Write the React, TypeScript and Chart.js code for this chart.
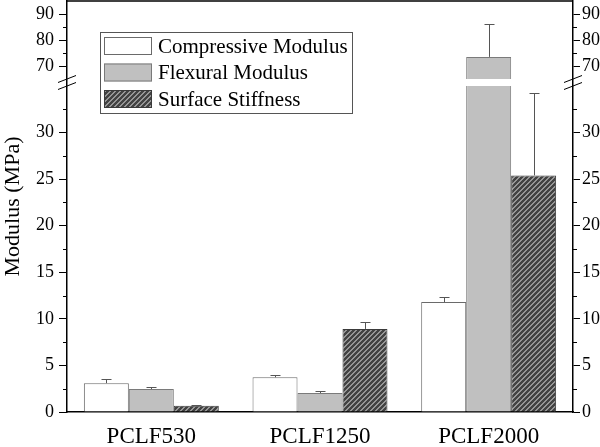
import React, { useEffect, useRef } from 'react';
import { Chart, registerables, LinearScale } from 'chart.js';

Chart.register(...registerables);

const categories = ['PCLF530', 'PCLF1250', 'PCLF2000'];
const seriesLabels = ['Compressive Modulus', 'Flexural Modulus', 'Surface Stiffness'];
const compressive = [3.1, 3.73, 11.8];
const compressiveErr = [0.45, 0.21, 0.55];
const flexural = [2.47, 2.04, 73.5];
const flexuralErr = [0.22, 0.18, 12.7];
const surface = [0.68, 8.92, 25.4];
const surfaceErr = [0.07, 0.76, 8.9];
const majorTicks = [0, 5, 10, 15, 20, 25, 30, 70, 80, 90];
const minorTicks = [2.5, 7.5, 12.5, 17.5, 22.5, 27.5, 32.5, 75, 85];
const LOW_MAX = 35;
const HIGH_MIN = 65;
const HIGH_MAX = 95;
const LOW_FRAC = 326 / 411;
const GAP_FRAC = 7 / 411;

const SERIF = '"Liberation Serif", "Times New Roman", serif';

class BrokenScale extends LinearScale {
  static id = 'broken';
  static defaults = LinearScale.defaults;
  getPixelForValue(value: any) {
    if (value === null || value === undefined || isNaN(value)) return NaN;
    const s: any = this;
    const H = s.bottom - s.top;
    const lowH = H * LOW_FRAC;
    const gapH = H * GAP_FRAC;
    const highH = H - lowH - gapH;
    if (value <= LOW_MAX) return s.bottom - (value / LOW_MAX) * lowH;
    if (value >= HIGH_MIN) return s.top + highH - ((value - HIGH_MIN) / (HIGH_MAX - HIGH_MIN)) * highH;
    const t = (value - LOW_MAX) / (HIGH_MIN - LOW_MAX);
    return s.bottom - lowH - t * gapH;
  }
  getValueForPixel(pixel: number) {
    const s: any = this;
    const H = s.bottom - s.top;
    const lowH = H * LOW_FRAC;
    const gapH = H * GAP_FRAC;
    const highH = H - lowH - gapH;
    if (pixel >= s.bottom - lowH) return ((s.bottom - pixel) / lowH) * LOW_MAX;
    if (pixel <= s.top + highH) return HIGH_MIN + ((s.top + highH - pixel) / highH) * (HIGH_MAX - HIGH_MIN);
    return LOW_MAX + ((s.bottom - lowH - pixel) / gapH) * (HIGH_MIN - LOW_MAX);
  }
}
Chart.register(BrokenScale as any);

function makeHatch(ctx: CanvasRenderingContext2D): CanvasPattern | string {
  const s = 5;
  const c = document.createElement('canvas');
  c.width = s;
  c.height = s;
  const g = c.getContext('2d');
  if (!g) return '#555';
  const img = g.createImageData(s, s);
  for (let y = 0; y < s; y++) {
    for (let x = 0; x < s; x++) {
      const k = (x + y) % s;
      const v = k < 2 ? 150 : 66;
      const i = (y * s + x) * 4;
      img.data[i] = v;
      img.data[i + 1] = v;
      img.data[i + 2] = v;
      img.data[i + 3] = 255;
    }
  }
  g.putImageData(img, 0, 0);
  return ctx.createPattern(c, 'repeat') || '#555';
}

export default function App() {
  const ref = useRef<HTMLCanvasElement>(null);
  useEffect(() => {
    const canvas = ref.current;
    if (!canvas) return;
    const ctx0 = canvas.getContext('2d') as CanvasRenderingContext2D;
    const hatch = makeHatch(ctx0);
    const values = [compressive, flexural, surface];
    const errors = [compressiveErr, flexuralErr, surfaceErr];
    const fills: any[] = ['#ffffff', '#c0c0c0', hatch];
    const borders = ['#6a6a6a', '#7a7a7a', '#3a3a3a'];

    const overlay = {
      id: 'overlay',
      afterDatasetsDraw(chart: any) {
        const ctx = chart.ctx;
        const area = chart.chartArea;
        const ys = chart.scales.y;
        const gTop = ys.getPixelForValue(HIGH_MIN);
        const gBot = ys.getPixelForValue(LOW_MAX);
        ctx.save();
        ctx.fillStyle = '#ffffff';
        ctx.fillRect(area.left + 1, gTop, area.right - area.left - 2, gBot - gTop);
        ctx.strokeStyle = '#555';
        ctx.lineWidth = 1;
        values.forEach((vals, d) => {
          const meta = chart.getDatasetMeta(d);
          vals.forEach((v, i) => {
            const bar = meta.data[i];
            if (!bar) return;
            const x = Math.round(bar.x) + 0.5;
            const y0 = ys.getPixelForValue(v);
            const y1 = Math.round(ys.getPixelForValue(v + errors[d][i])) + 0.5;
            ctx.beginPath();
            ctx.moveTo(x, y0);
            ctx.lineTo(x, y1);
            ctx.moveTo(x - 5, y1);
            ctx.lineTo(x + 5, y1);
            ctx.stroke();
          });
        });
        ctx.restore();
      },
      afterDraw(chart: any) {
        const ctx = chart.ctx;
        const area = chart.chartArea;
        ctx.save();
        ctx.strokeStyle = '#000';
        ctx.lineWidth = 1.5;
        ctx.beginPath();
        ctx.moveTo(area.left, area.top);
        ctx.lineTo(area.right, area.top);
        ctx.stroke();
        ctx.lineWidth = 1;
        const ys = chart.scales.y;
        minorTicks.forEach((v) => {
          const y = Math.round(ys.getPixelForValue(v)) + 0.5;
          ctx.beginPath();
          ctx.moveTo(area.left - 4, y);
          ctx.lineTo(area.left, y);
          ctx.moveTo(area.right, y);
          ctx.lineTo(area.right + 4, y);
          ctx.stroke();
        });
        const gTop = ys.getPixelForValue(HIGH_MIN);
        const gBot = ys.getPixelForValue(LOW_MAX);
        [area.left, area.right].forEach((x) => {
          [gTop, gBot].forEach((y) => {
            ctx.beginPath();
            ctx.moveTo(x - 9, y + 3.5);
            ctx.lineTo(x + 9, y - 3.5);
            ctx.stroke();
          });
        });
        const lx = area.left + 33;
        const ly = area.top + 31;
        ctx.strokeStyle = '#555';
        ctx.lineWidth = 1;
        ctx.strokeRect(lx + 0.5, ly + 0.5, 252, 81);
        ctx.font = '21px ' + SERIF;
        ctx.textBaseline = 'middle';
        ctx.textAlign = 'left';
        seriesLabels.forEach((lab, i) => {
          const sy = ly + 5 + i * 26.5;
          ctx.fillStyle = fills[i];
          ctx.fillRect(lx + 4, sy, 48, 18);
          ctx.strokeStyle = borders[i];
          ctx.strokeRect(lx + 4.5, sy + 0.5, 47, 17);
          ctx.fillStyle = '#000';
          ctx.fillText(lab, lx + 58, sy + 10);
        });
        ctx.restore();
      },
    };

    const yCommon = {
      type: 'broken',
      min: 0,
      max: HIGH_MAX,
      afterBuildTicks: (s: any) => {
        s.ticks = majorTicks.map((v) => ({ value: v }));
      },
      grid: { drawOnChartArea: false, color: '#000', lineWidth: 1, tickLength: 8 },
      border: { color: '#000', width: 1.5 },
    };

    const chart = new Chart(canvas, {
      type: 'bar',
      data: {
        labels: categories,
        datasets: values.map((vals, d) => ({
          label: seriesLabels[d],
          data: vals,
          backgroundColor: fills[d],
          borderColor: borders[d],
          borderWidth: 1,
          yAxisID: 'y',
          categoryPercentage: 0.8,
          barPercentage: 1.0,
        })),
      },
      options: {
        responsive: false,
        maintainAspectRatio: false,
        animation: false,
        devicePixelRatio: 1,
        layout: { padding: { top: 1, left: 0, right: 0, bottom: 0 } },
        plugins: { legend: { display: false }, tooltip: { enabled: false } },
        scales: {
          x: {
            type: 'category',
            grid: { display: true, drawOnChartArea: false, drawTicks: false },
            border: { color: '#000', width: 1.5 },
            ticks: { font: { family: SERIF, size: 23 }, color: '#000', padding: 11 },
            afterFit: (s: any) => {
              s.height = 35;
              s.paddingLeft = 0;
              s.paddingRight = 0;
            },
          },
          y: {
            ...yCommon,
            position: 'left',
            ticks: { font: { family: SERIF, size: 18 }, color: '#000', padding: 5, autoSkip: false, callback: (v: any) => String(v) },
            title: { display: true, text: 'Modulus (MPa)', font: { family: SERIF, size: 22 }, color: '#000', padding: { top: 0, bottom: 0 } },
            afterFit: (s: any) => {
              s.width = 67;
              s.paddingTop = 0;
              s.paddingBottom = 0;
            },
          },
          y2: {
            ...yCommon,
            position: 'right',
            grid: { drawOnChartArea: false, color: '#000', lineWidth: 1, tickLength: 7 },
            ticks: { font: { family: SERIF, size: 18 }, color: '#000', padding: 2, autoSkip: false, callback: (v: any) => String(v) },
            afterFit: (s: any) => {
              s.width = 27;
              s.paddingTop = 0;
              s.paddingBottom = 0;
            },
          },
        },
      } as any,
      plugins: [overlay],
    } as any);
    return () => chart.destroy();
  }, []);
  return (
    <div style={{ position: 'absolute', left: 0, top: 0, width: 600, height: 447 }}>
      <canvas ref={ref} width={600} height={447} />
    </div>
  );
}
